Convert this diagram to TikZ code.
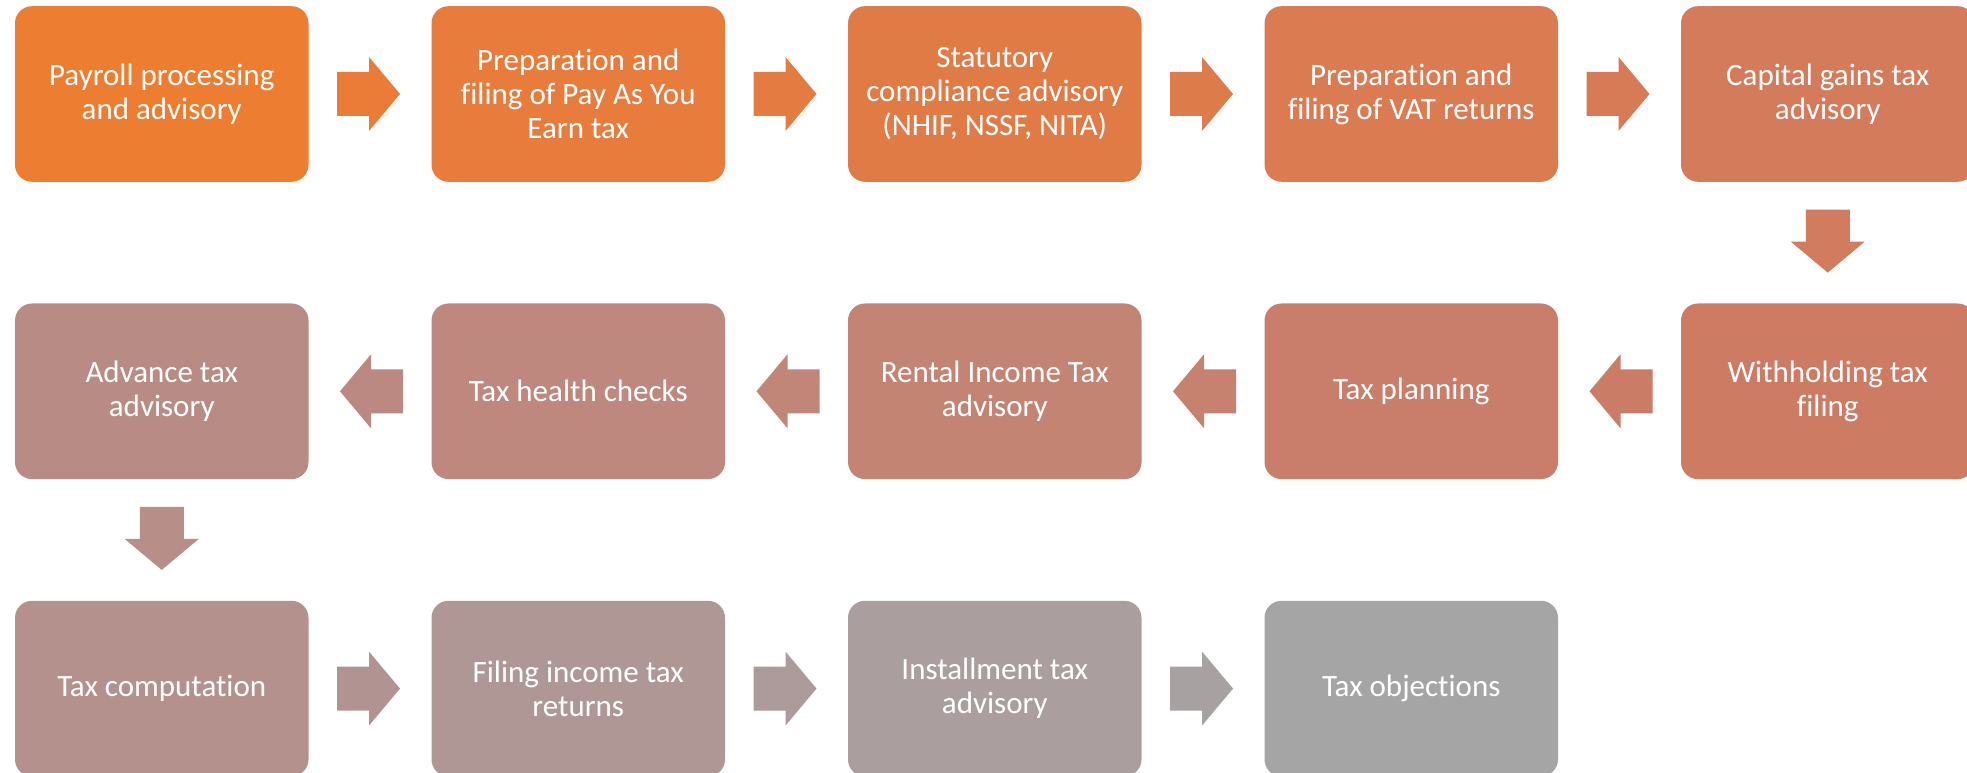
\documentclass[tikz,border=0pt]{standalone}
\usepackage{fontspec}
\setmainfont{Carlito}[Ligatures={NoCommon}]
\usetikzlibrary{calc}
\definecolor{c0}{HTML}{ED7D31}
\definecolor{c1}{HTML}{E87C3C}
\definecolor{c2}{HTML}{E17B46}
\definecolor{c3}{HTML}{DA7B51}
\definecolor{c4}{HTML}{D47B5B}
\definecolor{c5}{HTML}{CE7B63}
\definecolor{c6}{HTML}{C97E6B}
\definecolor{c7}{HTML}{C48474}
\definecolor{c8}{HTML}{BF887E}
\definecolor{c9}{HTML}{B98B85}
\definecolor{c10}{HTML}{B4918C}
\definecolor{c11}{HTML}{AF9796}
\definecolor{c12}{HTML}{AA9E9E}
\definecolor{c13}{HTML}{A5A5A5}
\tikzset{
  box/.style={rectangle, rounded corners=17pt, minimum width=293.5pt, minimum height=175.6pt,
    inner sep=0pt, text=white, align=center, font=\fontsize{31}{34}\selectfont},
  blockarrow/.pic={\fill[#1] (-33,-22) -- (-1,-22) -- (-1,-37) -- (30,0) -- (-1,37) -- (-1,22) -- (-33,22) -- cycle;}
}
\begin{document}
\begin{tikzpicture}[x=1pt,y=1pt]
\clip (0,0) rectangle (1967,772);
\fill[white] (0,0) rectangle (1967,772);
% row 1
\node[box, fill=c0] (b0) at (161.75,678) {Payroll processing\\and advisory};
\node[box, fill=c1] (b1) at (578.25,678) {Preparation and\\filing of Pay As You\\Earn tax};
\node[box, fill=c2] (b2) at (994.75,678) {Statutory\\compliance advisory\\(NHIF, NSSF, NITA)};
\node[box, fill=c3] (b3) at (1411.25,678) {Preparation and\\filing of VAT returns};
\node[box, fill=c4] (b4) at (1827.75,678) {Capital gains tax\\advisory};
% row 2
\node[box, fill=c5] (b5) at (1827.75,380.7) {Withholding tax\\filing};
\node[box, fill=c6] (b6) at (1411.25,380.7) {Tax planning};
\node[box, fill=c7] (b7) at (994.75,380.7) {Rental Income Tax\\advisory};
\node[box, fill=c8] (b8) at (578.25,380.7) {Tax health checks};
\node[box, fill=c9] (b9) at (161.75,380.7) {Advance tax\\advisory};
% row 3
\node[box, fill=c10] (b10) at (161.75,83.4) {Tax computation};
\node[box, fill=c11] (b11) at (578.25,83.4) {Filing income tax\\returns};
\node[box, fill=c12] (b12) at (994.75,83.4) {Installment tax\\advisory};
\node[box, fill=c13] (b13) at (1411.25,83.4) {Tax objections};
% arrows
\coordinate (m01) at ($(b0.east)!0.5!(b1.west)$);
\coordinate (m12) at ($(b1.east)!0.5!(b2.west)$);
\coordinate (m23) at ($(b2.east)!0.5!(b3.west)$);
\coordinate (m34) at ($(b3.east)!0.5!(b4.west)$);
\coordinate (m45) at ($(b4.south)!0.5!(b5.north)$);
\coordinate (m56) at ($(b5.west)!0.5!(b6.east)$);
\coordinate (m67) at ($(b6.west)!0.5!(b7.east)$);
\coordinate (m78) at ($(b7.west)!0.5!(b8.east)$);
\coordinate (m89) at ($(b8.west)!0.5!(b9.east)$);
\coordinate (m910) at ($(b9.south)!0.5!(b10.north)$);
\coordinate (m1011) at ($(b10.east)!0.5!(b11.west)$);
\coordinate (m1112) at ($(b11.east)!0.5!(b12.west)$);
\coordinate (m1213) at ($(b12.east)!0.5!(b13.west)$);
\pic at (m01) {blockarrow={c0!50!c1}};
\pic at (m12) {blockarrow={c1!50!c2}};
\pic at (m23) {blockarrow={c2!50!c3}};
\pic at (m34) {blockarrow={c3!50!c4}};
\pic[rotate=-90] at (m45) {blockarrow={c4!50!c5}};
\pic[rotate=180] at (m56) {blockarrow={c5!50!c6}};
\pic[rotate=180] at (m67) {blockarrow={c6!50!c7}};
\pic[rotate=180] at (m78) {blockarrow={c7!50!c8}};
\pic[rotate=180] at (m89) {blockarrow={c8!50!c9}};
\pic[rotate=-90] at (m910) {blockarrow={c9!50!c10}};
\pic at (m1011) {blockarrow={c10!50!c11}};
\pic at (m1112) {blockarrow={c11!50!c12}};
\pic at (m1213) {blockarrow={c12!50!c13}};
\end{tikzpicture}
\end{document}
